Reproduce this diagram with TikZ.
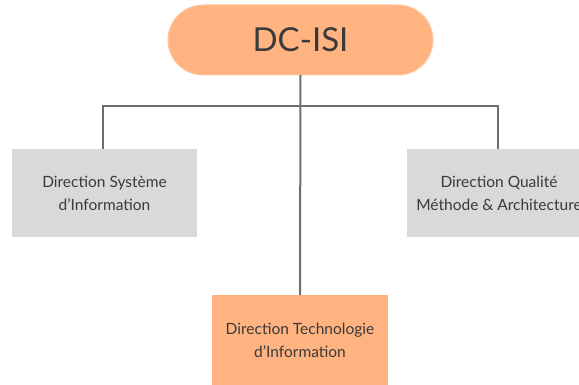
\documentclass[tikz,border=0pt]{standalone}
\usepackage{fontspec}
\setmainfont{Lato}
\definecolor{peach}{HTML}{FFB380}
\definecolor{peachline}{HTML}{FFC8A2}
\definecolor{boxgray}{HTML}{D9D9D9}
\definecolor{linegray}{HTML}{6E6E6E}
\definecolor{txt}{HTML}{3A3A3A}
\begin{document}
\begin{tikzpicture}[x=1pt,y=-1pt,
  every node/.style={inner sep=0pt, outer sep=0pt, text=txt},
  pill/.style={fill=peach, draw=peachline, line width=1pt, rounded corners=35pt,
    minimum width=265pt, minimum height=70pt, font=\fontsize{33}{36}\selectfont},
  boxtext/.style={align=center, font=\fontsize{15.5}{23}\selectfont},
  graybox/.style={boxtext, fill=boxgray, minimum width=185pt, minimum height=88pt},
  orangebox/.style={boxtext, fill=peach, minimum width=176pt, minimum height=90pt},
  link/.style={draw=linegray, line width=2pt}]
\clip (0,0) rectangle (579,385);
\fill[white] (0,0) rectangle (579,385);
\node[pill] (top) at (300.5,40) {DC-ISI};
\node[graybox] (sys) at (104.5,193) {Direction Système\\d'Information};
\node[graybox] (qual) at (499,193) {Direction Qualité\\Méthode \& Architecture};
\node[orangebox] (tech) at (300,340) {Direction Technologie\\d'Information};
\coordinate (busL) at (103,106);
\coordinate (busR) at (498,106);
\draw[link] (top.south) -- (tech.north);
\draw[link] (sys.north -| busL) -- (busL) -- (busR) -- (qual.north -| busR);
\end{tikzpicture}
\end{document}
